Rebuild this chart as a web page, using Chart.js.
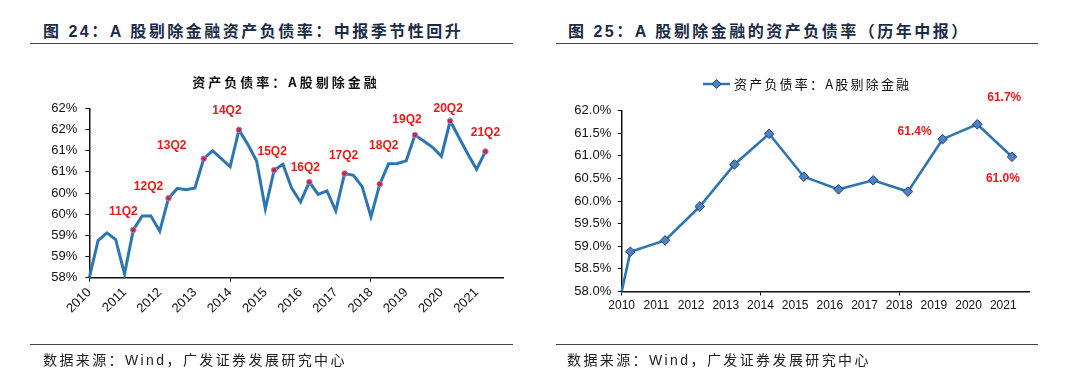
<!DOCTYPE html>
<html>
<head>
<meta charset="utf-8">
<script src="https://cdn.jsdelivr.net/npm/chart.js@4.4.0/dist/chart.umd.min.js"></script>
<style>
body{margin:0;background:#fff;width:1080px;height:386px;overflow:hidden;position:relative;}
.head{position:absolute;top:20px;font:bold 16px "Liberation Sans","Noto Sans CJK SC";letter-spacing:2.5px;color:#1b2a47;white-space:nowrap;line-height:24px;}
.rule{position:absolute;height:0;border-top:1.5px solid #444;}
.src{position:absolute;top:350px;font:14px "Liberation Sans","Noto Sans CJK SC";letter-spacing:2.4px;color:#222;white-space:nowrap;line-height:20px;}
.box{position:absolute;top:0;width:540px;height:386px;}
</style>
</head>
<body>
<div class="head" style="left:43px">图 24：A 股剔除金融资产负债率：中报季节性回升</div>
<div class="rule" style="left:30px;top:43px;width:483px"></div>
<div class="head" style="left:568px">图 25：A 股剔除金融的资产负债率（历年中报）</div>
<div class="rule" style="left:556px;top:43px;width:482px"></div>

<div class="box" style="left:0"><canvas id="leftChart"></canvas></div>
<div class="box" style="left:540px"><canvas id="rightChart"></canvas></div>

<div class="rule" style="left:30px;top:344px;width:483px"></div>
<div class="src" style="left:43px">数据来源：Wind，广发证券发展研究中心</div>
<div class="rule" style="left:556px;top:344px;width:482px"></div>
<div class="src" style="left:567px">数据来源：Wind，广发证券发展研究中心</div>

<script>
'use strict';
// categories
let years = ['2010','2011','2012','2013','2014','2015','2016','2017','2018','2019','2020','2021'];
let quarters = ['Q1','Q2','Q3','Q4'];
// 资产负债率 A股剔除金融, quarterly (%), 2010Q1 - 2021Q2
let quarterRatio = [
  58.00, 58.88, 59.06, 58.90,
  58.09, 59.13, 59.46, 59.46,
  59.10, 59.88, 60.11, 60.08,
  60.12, 60.81, 61.00, 60.81,
  60.62, 61.49, 61.15, 60.76,
  59.63, 60.54, 60.68, 60.11,
  59.79, 60.26, 59.97, 60.05,
  59.58, 60.46, 60.42, 60.15,
  59.44, 60.21, 60.69, 60.70,
  60.76, 61.37, 61.23, 61.08,
  60.87, 61.70, 61.31, 60.92,
  60.56, 60.98
];
let q2Labels = ['11Q2','12Q2','13Q2','14Q2','15Q2','16Q2','17Q2','18Q2','19Q2','20Q2','21Q2'];
let yMin = 58;
let yMax = 62;
let yStep = 0.5;

let categories = years.flatMap(y => quarters.map(q => y + q));
// mid-year only series for the right chart (starts at 2010Q1)
let midYear = quarterRatio.map((v, i) => (i === 0 || i % 4 === 1) ? v : null);

// label offsets (px) for the left chart's Q2 tags
let tagShift = [[-10,-18],[-20,-11],[-32,-13],[-12,-19],[-2,-18],[-4,-14],[-1,-18],[4,-38],[-8,-15],[-2,-12],[0,-19]];

const FONT = '"Liberation Sans", Arial, sans-serif';

const pointText = {
  id: 'pointText',
  afterDatasetsDraw(chart, args, opts) {
    let meta = chart.getDatasetMeta(0);
    let ctx = chart.ctx;
    ctx.save();
    ctx.font = 'bold 12px ' + FONT;
    ctx.fillStyle = '#f01818';
    ctx.textAlign = 'center';
    ctx.textBaseline = 'middle';
    opts.items.forEach(it => {
      let p = meta.data[it.index];
      ctx.fillText(it.text, p.x + it.dx, p.y + it.dy);
    });
    ctx.restore();
  }
};

const caption = {
  id: 'caption',
  afterDraw(chart, args, o) {
    let ctx = chart.ctx;
    ctx.save();
    ctx.textBaseline = 'middle';
    if (o.symbol) {
      ctx.strokeStyle = '#2b76b3';
      ctx.lineWidth = 2.5;
      ctx.beginPath();
      ctx.moveTo(o.symbol[0], o.y);
      ctx.lineTo(o.symbol[1], o.y);
      ctx.stroke();
      let cx = (o.symbol[0] + o.symbol[1]) / 2, r = 4.5;
      ctx.beginPath();
      ctx.moveTo(cx, o.y - r); ctx.lineTo(cx + r, o.y); ctx.lineTo(cx, o.y + r); ctx.lineTo(cx - r, o.y);
      ctx.closePath();
      ctx.fillStyle = '#4f81c4';
      ctx.fill();
      ctx.lineWidth = 1;
      ctx.strokeStyle = '#1f3f78';
      ctx.stroke();
    }
    ctx.font = o.font;
    ctx.fillStyle = '#111';
    if ('letterSpacing' in ctx) ctx.letterSpacing = o.spacing;
    ctx.textAlign = o.align;
    ctx.fillText(o.text, o.x, o.y);
    ctx.restore();
  }
};

function xAxis(rotation, height) {
  return {
    type: 'category',
    offset: false,
    border: {display: true, color: '#111', width: 1.5},
    grid: {
      drawOnChartArea: false,
      drawTicks: true,
      tickLength: 4,
      color: c => (c.index % 4 === 0 ? '#111' : 'rgba(0,0,0,0)'),
      lineWidth: 1
    },
    ticks: {
      autoSkip: false,
      minRotation: rotation,
      maxRotation: rotation,
      padding: 3,
      color: '#111',
      font: {family: FONT, size: rotation ? 13 : 12},
      callback: function (val, i) {
        return i % 4 === 0 ? this.getLabelForValue(val).slice(0, 4) : null;
      }
    },
    afterFit: s => { s.height = height; }
  };
}

function yAxis(width, pad, fmt) {
  return {
    min: yMin,
    max: yMax,
    border: {display: true, color: '#111', width: 1.5},
    grid: {drawOnChartArea: false, drawTicks: true, tickLength: 4, color: '#111'},
    ticks: {
      stepSize: yStep,
      padding: pad,
      color: '#111',
      font: {family: FONT, size: 13},
      callback: fmt
    },
    afterFit: s => { s.width = width; }
  };
}

let leftItems = [];
q2Labels.forEach((t, k) => {
  leftItems.push({index: 5 + k * 4, text: t, dx: tagShift[k][0], dy: tagShift[k][1]});
});

new Chart(document.getElementById('leftChart'), {
  type: 'line',
  data: {
    labels: categories,
    datasets: [{
      data: quarterRatio,
      borderColor: '#2b76b3',
      borderWidth: 3,
      tension: 0,
      pointStyle: 'circle',
      pointRadius: c => (c.dataIndex % 4 === 1 && c.dataIndex >= 5 ? 2.8 : 0),
      pointBackgroundColor: '#d81e3c',
      pointBorderColor: '#8c93d6',
      pointBorderWidth: 1
    }]
  },
  options: {
    responsive: true,
    maintainAspectRatio: false,
    animation: false,
    devicePixelRatio: 1,
    layout: {padding: {left: 30, right: 37, top: 108.3, bottom: 68.2}},
    scales: {
      x: xAxis(45, 40),
      y: yAxis(59.3, 8, v => Math.round(v) + '%')
    },
    plugins: {
      legend: {display: false},
      tooltip: {enabled: false},
      pointText: {items: leftItems},
      caption: {text: '资产负债率：A股剔除金融', x: 286, y: 81.7, align: 'center',
        font: 'bold 13px "Noto Sans CJK SC", sans-serif', spacing: '3px'}
    }
  },
  plugins: [pointText, caption]
});

let rightItems = [37, 41, 45].map((idx, k) => ({
  index: idx,
  text: midYear[idx].toFixed(1) + '%',
  dx: [-28, 27, -9][k],
  dy: [-7, -27, 22][k]
}));

new Chart(document.getElementById('rightChart'), {
  type: 'line',
  data: {
    labels: categories,
    datasets: [{
      data: midYear,
      spanGaps: true,
      borderColor: '#2b76b3',
      borderWidth: 2.6,
      tension: 0,
      pointStyle: 'rectRot',
      pointRadius: c => (c.dataIndex === 0 ? 0 : 4.8),
      pointBackgroundColor: '#4f81c4',
      pointBorderColor: '#1f3f78',
      pointBorderWidth: 1
    }]
  },
  options: {
    responsive: true,
    maintainAspectRatio: false,
    animation: false,
    devicePixelRatio: 1,
    layout: {padding: {left: 20, right: 50.7, top: 110.7, bottom: 64.5}},
    scales: {
      x: xAxis(0, 30),
      y: yAxis(61.7, 6.5, v => v.toFixed(1) + '%')
    },
    plugins: {
      legend: {display: false},
      tooltip: {enabled: false},
      pointText: {items: rightItems},
      caption: {text: '资产负债率：A股剔除金融', x: 194, y: 84, align: 'left', symbol: [163, 190],
        font: '13px "Noto Sans CJK SC", sans-serif', spacing: '2.2px'}
    }
  },
  plugins: [pointText, caption]
});
</script>
</body>
</html>
